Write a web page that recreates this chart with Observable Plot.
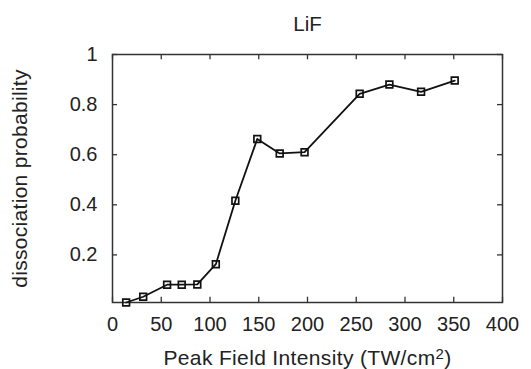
<!DOCTYPE html>
<html>
<head>
<meta charset="utf-8">
<script src="https://cdn.jsdelivr.net/npm/d3@7"></script>
<script src="https://cdn.jsdelivr.net/npm/@observablehq/plot@0.6"></script>
<style>
  html, body { margin: 0; padding: 0; background: #fff; }
  svg { display: block; overflow: visible; }
</style>
</head>
<body>
<div id="chart"></div>
<script>
const title = "LiF";
const xLabelMain = "Peak Field Intensity (TW/cm";
const xLabelSup = "2";
const xLabelEnd = ")";
const yLabel = "dissociation probability";
const intensity = [14, 31.5, 56, 71, 87, 106, 126, 148.5, 171.5, 197, 253.5, 284, 316.5, 351];
const probability = [0.01, 0.033, 0.081, 0.081, 0.082, 0.163, 0.416, 0.663, 0.605, 0.61, 0.843, 0.88, 0.851, 0.896];
const xTicks = [0, 50, 100, 150, 200, 250, 300, 350, 400];
const yTicks = [0.2, 0.4, 0.6, 0.8, 1];

const data = intensity.map((x, i) => ({x, y: probability[i]}));
const font = "'Liberation Sans', Arial, Helvetica, sans-serif";

const chart = Plot.plot({
  width: 531,
  height: 369,
  marginLeft: 112,
  marginRight: 29,
  marginTop: 54,
  marginBottom: 67,
  style: {fontFamily: font, fontSize: "20px", color: "#222", background: "#fff"},
  x: {domain: [0, 400]},
  y: {domain: [0.01, 1]},
  marks: [
    Plot.tickX(xTicks, {x: d => d, stroke: "#333", strokeWidth: 1.3, insetTop: 242.7}),
    Plot.tickX(xTicks, {x: d => d, stroke: "#333", strokeWidth: 1.3, insetBottom: 242.7}),
    Plot.tickY(yTicks, {y: d => d, stroke: "#333", strokeWidth: 1.3, insetRight: 385}),
    Plot.tickY(yTicks, {y: d => d, stroke: "#333", strokeWidth: 1.3, insetLeft: 385}),
    Plot.frame({stroke: "#333", strokeWidth: 1.5}),
    Plot.axisX({ticks: xTicks, tickSize: 0, tickPadding: 14, tickFormat: d => String(d), label: null}),
    Plot.axisY({ticks: yTicks, tickSize: 0, tickPadding: 15, tickFormat: d => String(d),
      label: yLabel, labelArrow: "none", labelAnchor: "center", labelOffset: 100, fontSize: 20}),
    Plot.text([xLabelMain], {text: d => d, frameAnchor: "bottom", lineAnchor: "bottom", dy: 62,
      fontSize: 21, fill: "#222", className: "xlabel"}),
    Plot.line(data, {x: "x", y: "y", stroke: "#111", strokeWidth: 1.8}),
    Plot.dot(data, {x: "x", y: "y", symbol: "square", r: 3.8, stroke: "#111", strokeWidth: 1.7, fill: "none"}),
    Plot.text([title], {text: d => d, frameAnchor: "top", lineAnchor: "bottom", dy: -24, fontSize: 20.5, fill: "#222"})
  ]
});

const svg = d3.select(chart);
svg.selectAll("g.xlabel text").each(function() {
  const t = d3.select(this);
  t.text(null).style("letter-spacing", "0.35px");
  t.append("tspan").text(xLabelMain);
  t.append("tspan").style("baseline-shift", "42%").style("font-size", "15px").text(xLabelSup);
  t.append("tspan").text(xLabelEnd);
});
svg.selectAll("text").filter(function() { return this.textContent === yLabel; })
  .style("font-size", "21px").style("letter-spacing", "0.3px");
document.getElementById("chart").appendChild(chart);
</script>
</body>
</html>
